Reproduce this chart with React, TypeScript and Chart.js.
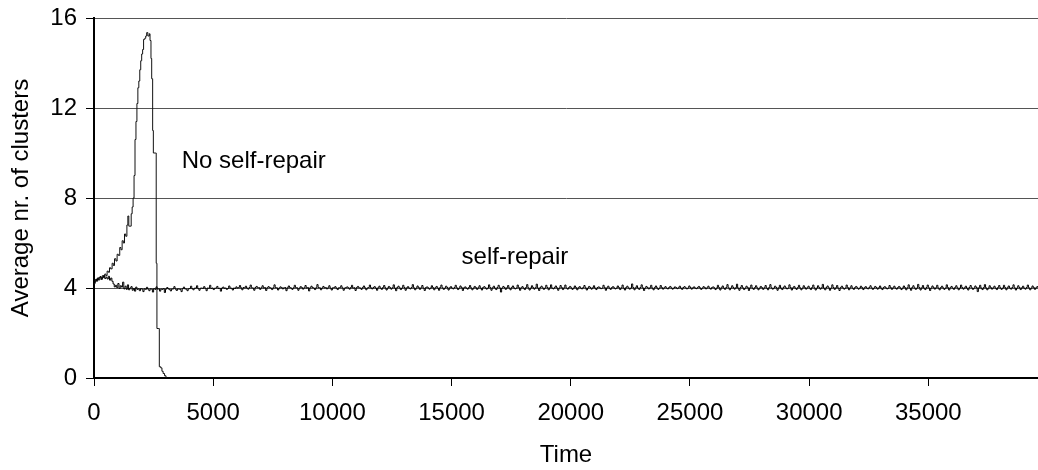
import React, { useEffect, useRef } from "react";
import { Chart, registerables } from "chart.js";

Chart.register(...registerables);

// X axis tick values (Time)
const X_TICKS = [0, 5000, 10000, 15000, 20000, 25000, 30000, 35000];
const X_MAX = 39600;
// Y axis tick values
const Y_TICKS = [0, 4, 8, 12, 16];

// "self-repair" run: one value every SAMPLE_STEP time units, from t = 0
const SAMPLE_STEP = 50;
const SELF_REPAIR_V = [
  4.25, 4.32, 4.40, 4.36, 4.45, 4.50, 4.38, 4.46, 4.55, 4.42, 4.48, 4.40, 4.52, 4.35, 4.44, 4.30, 4.18, 4.05, 4.12, 4.02,
  4.20, 3.98, 4.10, 4.04, 4.26, 3.96, 4.08, 3.94, 4.14, 3.92, 4.00, 4.06, 3.90, 3.98, 3.86, 4.04, 3.94, 3.96, 3.88, 3.97,
  3.95, 3.84, 3.96, 3.94, 4.03, 3.95, 3.88, 3.96, 3.95, 3.82, 3.97, 3.94, 4.05, 3.95, 3.96, 3.86, 3.95, 3.94, 3.97, 3.80,
  3.95, 4.02, 3.96, 3.94, 3.87, 3.95, 3.96, 4.06, 3.95, 3.89, 3.96, 3.95, 3.94, 3.84, 3.97, 4.04, 3.96, 3.95, 3.88, 3.96,
  3.98, 4.08, 3.97, 3.92, 3.99, 4.00, 4.10, 3.98, 3.90, 3.99, 4.00, 3.98, 4.06, 3.99, 3.88, 4.00, 3.99, 4.12, 3.98, 4.00,
  3.93, 3.99, 4.00, 4.07, 3.98, 3.99, 3.86, 4.00, 4.04, 3.99, 4.00, 3.94, 3.98, 4.09, 4.00, 3.99, 3.91, 4.00, 3.98, 4.05,
  4.00, 4.02, 4.11, 4.01, 3.92, 4.02, 4.01, 4.08, 4.00, 3.95, 4.02, 4.13, 4.01, 4.00, 3.90, 4.02, 4.07, 4.01, 4.02, 3.94,
  4.01, 4.10, 4.00, 4.02, 3.89, 4.01, 4.06, 4.02, 4.00, 3.93, 4.01, 4.14, 4.02, 4.01, 3.91, 4.00, 4.05, 4.02, 3.96, 4.01,
  4.02, 3.88, 4.01, 4.09, 4.02, 4.00, 3.94, 4.01, 4.12, 4.02, 4.01, 3.90, 4.00, 4.06, 4.02, 3.95, 4.01, 4.11, 4.00, 4.02,
  3.87, 4.01, 4.08, 4.02, 4.00, 3.93, 4.01, 4.15, 4.02, 4.01, 3.92, 4.00, 4.07, 4.01, 4.02, 3.96, 4.01, 4.10, 4.00, 3.91,
  4.01, 4.02, 4.06, 4.00, 3.93, 4.01, 4.02, 4.10, 4.01, 3.90, 4.00, 4.02, 4.05, 4.01, 3.95, 4.02, 4.12, 4.00, 4.01, 3.89,
  4.02, 4.07, 4.01, 4.00, 3.94, 4.02, 4.09, 4.01, 3.92, 4.00, 4.02, 4.13, 4.01, 3.96, 4.02, 4.06, 4.00, 3.90, 4.01, 4.08,
  4.00, 3.94, 4.02, 4.11, 4.01, 3.91, 4.00, 4.07, 4.02, 3.95, 4.01, 4.14, 4.00, 3.88, 4.02, 4.08, 4.01, 3.93, 4.00, 4.12,
  4.02, 3.90, 4.01, 4.06, 4.00, 3.96, 4.02, 4.15, 4.01, 3.92, 4.00, 4.09, 4.02, 3.94, 4.01, 4.11, 4.00, 3.89, 4.02, 4.05,
  4.01, 3.95, 4.00, 4.10, 4.02, 3.92, 4.01, 4.07, 4.00, 3.90, 4.02, 4.13, 4.01, 3.94, 4.00, 4.08, 4.02, 3.91, 4.01, 4.06,
  4.00, 3.96, 4.02, 4.12, 4.01, 3.93, 4.00, 4.09, 4.02, 3.89, 4.01, 4.05, 4.00, 3.95, 4.02, 4.11, 4.01, 3.92, 4.00, 4.07,
  4.02, 3.94, 4.01, 4.10, 4.00, 3.91, 4.02, 4.06, 4.01, 3.95, 4.00, 4.14, 4.02, 3.90, 4.01, 4.08, 4.00, 3.93, 4.02, 4.12,
  4.01, 3.82, 4.00, 4.07, 4.02, 3.94, 4.01, 4.11, 4.00, 3.92, 4.02, 4.09, 4.01, 3.96, 4.00, 4.13, 4.02, 3.90, 4.01, 4.06,
  4.00, 3.93, 4.02, 4.15, 4.01, 3.91, 4.00, 4.10, 4.02, 3.95, 4.01, 4.17, 4.00, 3.89, 4.02, 4.08, 4.01, 3.94, 4.00, 4.12,
  4.02, 3.92, 4.01, 4.14, 4.00, 3.96, 4.02, 4.09, 4.01, 3.90, 4.00, 4.11, 4.02, 3.93, 4.01, 4.13, 4.00, 3.95, 4.02, 4.07,
  4.01, 3.94, 4.00, 4.09, 4.02, 3.92, 4.01, 4.06, 4.00, 3.96, 4.02, 4.11, 4.01, 3.91, 4.00, 4.07, 4.02, 3.95, 4.01, 4.10,
  4.00, 3.93, 4.02, 4.05, 4.01, 3.97, 4.00, 4.12, 4.02, 3.90, 4.01, 4.08, 4.00, 3.94, 4.02, 4.06, 4.01, 3.96, 4.00, 4.09,
  4.02, 3.93, 4.01, 4.13, 4.00, 3.91, 4.02, 4.08, 4.01, 3.95, 4.00, 4.18, 4.02, 3.92, 4.01, 4.10, 4.00, 3.94, 4.02, 4.14,
  4.01, 3.89, 4.00, 4.07, 4.02, 3.96, 4.01, 4.12, 4.00, 3.92, 4.02, 4.09, 4.01, 3.94, 4.00, 4.11, 4.02, 3.95, 4.01, 4.06,
  4.00, 3.96, 4.02, 4.07, 4.01, 3.95, 4.00, 4.05, 4.02, 3.97, 4.01, 4.08, 4.00, 3.94, 4.02, 4.06, 4.01, 3.96, 4.00, 4.09,
  4.02, 3.95, 4.01, 4.05, 4.00, 3.97, 4.02, 4.07, 4.01, 3.94, 4.00, 4.06, 4.02, 3.96, 4.01, 4.08, 4.00, 3.95, 4.02, 4.05,
  4.01, 3.93, 4.00, 4.12, 4.02, 3.91, 4.01, 4.09, 4.00, 3.94, 4.02, 4.15, 4.01, 3.92, 4.00, 4.10, 4.02, 3.95, 4.01, 4.17,
  4.00, 3.90, 4.02, 4.11, 4.01, 3.93, 4.00, 4.08, 4.02, 3.89, 4.01, 4.13, 4.00, 3.94, 4.02, 4.10, 4.01, 3.92, 4.00, 4.07,
  4.02, 3.94, 4.01, 4.11, 4.00, 3.92, 4.02, 4.15, 4.01, 3.95, 4.00, 4.08, 4.02, 3.90, 4.01, 4.12, 4.00, 3.93, 4.02, 4.09,
  4.01, 3.96, 4.00, 4.14, 4.02, 3.91, 4.01, 4.07, 4.00, 3.94, 4.02, 4.12, 4.01, 3.92, 4.00, 4.10, 4.02, 3.95, 4.01, 4.08,
  4.00, 3.93, 4.02, 4.13, 4.01, 3.91, 4.00, 4.10, 4.02, 3.95, 4.01, 4.16, 4.00, 3.92, 4.02, 4.09, 4.01, 3.90, 4.00, 4.14,
  4.02, 3.94, 4.01, 4.11, 4.00, 3.89, 4.02, 4.08, 4.01, 3.95, 4.00, 4.13, 4.02, 3.92, 4.01, 4.10, 4.00, 3.94, 4.02, 4.07,
  4.01, 3.95, 4.00, 4.08, 4.02, 3.93, 4.01, 4.06, 4.00, 3.96, 4.02, 4.10, 4.01, 3.94, 4.00, 4.07, 4.02, 3.95, 4.01, 4.09,
  4.00, 3.93, 4.02, 4.06, 4.01, 3.96, 4.00, 4.11, 4.02, 3.94, 4.01, 4.08, 4.00, 3.95, 4.02, 4.07, 4.01, 3.93, 4.00, 4.09,
  4.02, 3.92, 4.01, 4.14, 4.00, 3.90, 4.02, 4.10, 4.01, 3.94, 4.00, 4.16, 4.02, 3.91, 4.01, 4.11, 4.00, 3.93, 4.02, 4.13,
  4.01, 3.89, 4.00, 4.09, 4.02, 3.95, 4.01, 4.12, 4.00, 3.92, 4.02, 4.08, 4.01, 3.94, 4.00, 4.14, 4.02, 3.91, 4.01, 4.07,
  4.00, 3.94, 4.02, 4.10, 4.01, 3.92, 4.00, 4.13, 4.02, 3.95, 4.01, 4.08, 4.00, 3.91, 4.02, 4.11, 4.01, 3.94, 4.00, 4.09,
  4.02, 3.84, 4.01, 4.12, 4.00, 3.93, 4.02, 4.15, 4.01, 3.92, 4.00, 4.10, 4.02, 3.95, 4.01, 4.08, 4.00, 3.93, 4.02, 4.11,
  4.01, 3.94, 4.00, 4.12, 4.02, 3.92, 4.01, 4.09, 4.00, 3.95, 4.02, 4.14, 4.01, 3.91, 4.00, 4.10, 4.02, 3.93, 4.01, 4.08,
  4.00, 3.95, 4.02, 4.13, 4.01, 3.92, 4.00, 4.09, 4.02, 3.94, 4.01, 4.06, 4.00,
];

// "No self-repair" run
const NO_REPAIR_T = [
  0, 50, 100, 150, 200, 250, 300, 350, 400, 450, 500, 550, 600, 650, 700, 760, 810, 860, 920, 970,
  1020, 1080, 1130, 1180, 1230, 1280, 1330, 1380, 1420, 1460, 1510, 1560, 1600, 1640, 1680, 1720, 1760, 1800, 1840, 1880,
  1920, 1960, 2000, 2040, 2080, 2130, 2170, 2210, 2260, 2320, 2350, 2390, 2420, 2460, 2490, 2590, 2610, 2630, 2640, 2720,
  2740, 2800, 2850, 2900, 2960, 3020,
];
const NO_REPAIR_V = [
  4.2, 4.38, 4.3, 4.45, 4.36, 4.5, 4.42, 4.55, 4.48, 4.62, 4.55, 4.75, 4.7, 4.9, 4.85, 5.1, 5.0, 5.3, 5.2, 5.5,
  5.45, 5.8, 5.7, 6.1, 6.0, 6.4, 6.3, 6.8, 7.2, 6.75, 6.75, 7.3, 7.6, 8.0, 9.0, 10.6, 11.4, 12.2, 12.9, 13.2,
  13.7, 14.1, 14.4, 14.6, 15.05, 15.1, 15.2, 15.35, 15.2, 15.3, 15.0, 14.2, 13.3, 11.0, 10.0, 10.0, 5.1, 5.1, 2.2, 2.2,
  0.5, 0.45, 0.3, 0.2, 0.1, 0,
];

// In-chart labels (anchored in data coordinates: time, value at baseline)
const NOTE_TEXT = ["No self-repair", "self-repair"];
const NOTE_T = [3680, 15420];
const NOTE_V = [9.33, 5.07];

const FONT = "Arial, 'Liberation Sans', Helvetica, sans-serif";
const FONT_SIZE = 24;

const notesPlugin = {
  id: "notes",
  afterDatasetsDraw(chart: any) {
    const ctx = chart.ctx;
    const xs = chart.scales.x;
    const ys = chart.scales.y;
    ctx.save();
    ctx.fillStyle = "#000";
    ctx.font = `${FONT_SIZE}px ${FONT}`;
    ctx.textAlign = "left";
    ctx.textBaseline = "alphabetic";
    NOTE_TEXT.forEach((t, i) => {
      ctx.fillText(t, xs.getPixelForValue(NOTE_T[i]), ys.getPixelForValue(NOTE_V[i]));
    });
    ctx.restore();
  },
};

export default function App() {
  const ref = useRef<HTMLCanvasElement | null>(null);

  useEffect(() => {
    if (!ref.current) return;
    const selfRepair = SELF_REPAIR_V.map((v, i) => ({ x: i * SAMPLE_STEP, y: v }));
    const noRepair = NO_REPAIR_T.map((t, i) => ({ x: t, y: NO_REPAIR_V[i] }));

    const chart = new Chart(ref.current, {
      type: "line",
      data: {
        datasets: [
          {
            label: "self-repair",
            data: selfRepair,
            borderColor: "#000",
            borderWidth: 1,
            pointRadius: 0,
            stepped: true,
          },
          {
            label: "No self-repair",
            data: noRepair,
            borderColor: "#111",
            borderWidth: 1,
            pointRadius: 0,
            stepped: true,
          },
        ],
      },
      options: {
        animation: false,
        responsive: false,
        devicePixelRatio: 1,
        layout: { padding: { top: 18, right: 0, bottom: 0, left: 0 } },
        plugins: {
          legend: { display: false },
          tooltip: { enabled: false },
        },
        scales: {
          x: {
            type: "linear",
            min: 0,
            max: X_MAX,
            afterBuildTicks: (axis: any) => {
              axis.ticks = X_TICKS.map((v) => ({ value: v }));
            },
            afterFit: (axis: any) => {
              axis.height = 92;
              axis.paddingLeft = 0;
              axis.paddingRight = 0;
            },
            grid: {
              drawOnChartArea: false,
              drawTicks: true,
              tickLength: 8,
              tickColor: "#000",
              tickWidth: 1,
            },
            border: { display: true, color: "#000", width: 2 },
            ticks: {
              color: "#000",
              font: { family: FONT, size: FONT_SIZE },
              padding: 13,
              autoSkip: false,
              maxRotation: 0,
              callback: (v: any) => String(v),
            },
            title: {
              display: true,
              text: "Time",
              color: "#000",
              font: { family: FONT, size: FONT_SIZE },
              padding: { top: 0, bottom: 0 },
            },
          },
          y: {
            type: "linear",
            min: 0,
            max: 16,
            afterBuildTicks: (axis: any) => {
              axis.ticks = Y_TICKS.map((v) => ({ value: v }));
            },
            afterFit: (axis: any) => {
              axis.width = 94;
              axis.paddingTop = 0;
              axis.paddingBottom = 0;
            },
            grid: {
              color: "#555",
              lineWidth: 1,
              drawTicks: true,
              tickLength: 8,
              tickColor: "#000",
              tickWidth: 1,
            },
            border: { display: true, color: "#000", width: 2 },
            ticks: {
              color: "#000",
              font: { family: FONT, size: FONT_SIZE },
              padding: 9,
              callback: (v: any) => String(v),
            },
            title: {
              display: true,
              text: "Average nr. of clusters",
              color: "#000",
              font: { family: FONT, size: FONT_SIZE },
              padding: { top: 7, bottom: 0 },
            },
          },
        },
      },
      plugins: [notesPlugin],
    });
    return () => chart.destroy();
  }, []);

  return (
    <div style={{ position: "absolute", left: 0, top: 0, width: 1038, height: 470, background: "#fff" }}>
      <canvas ref={ref} width={1038} height={470} style={{ display: "block" }} />
    </div>
  );
}
